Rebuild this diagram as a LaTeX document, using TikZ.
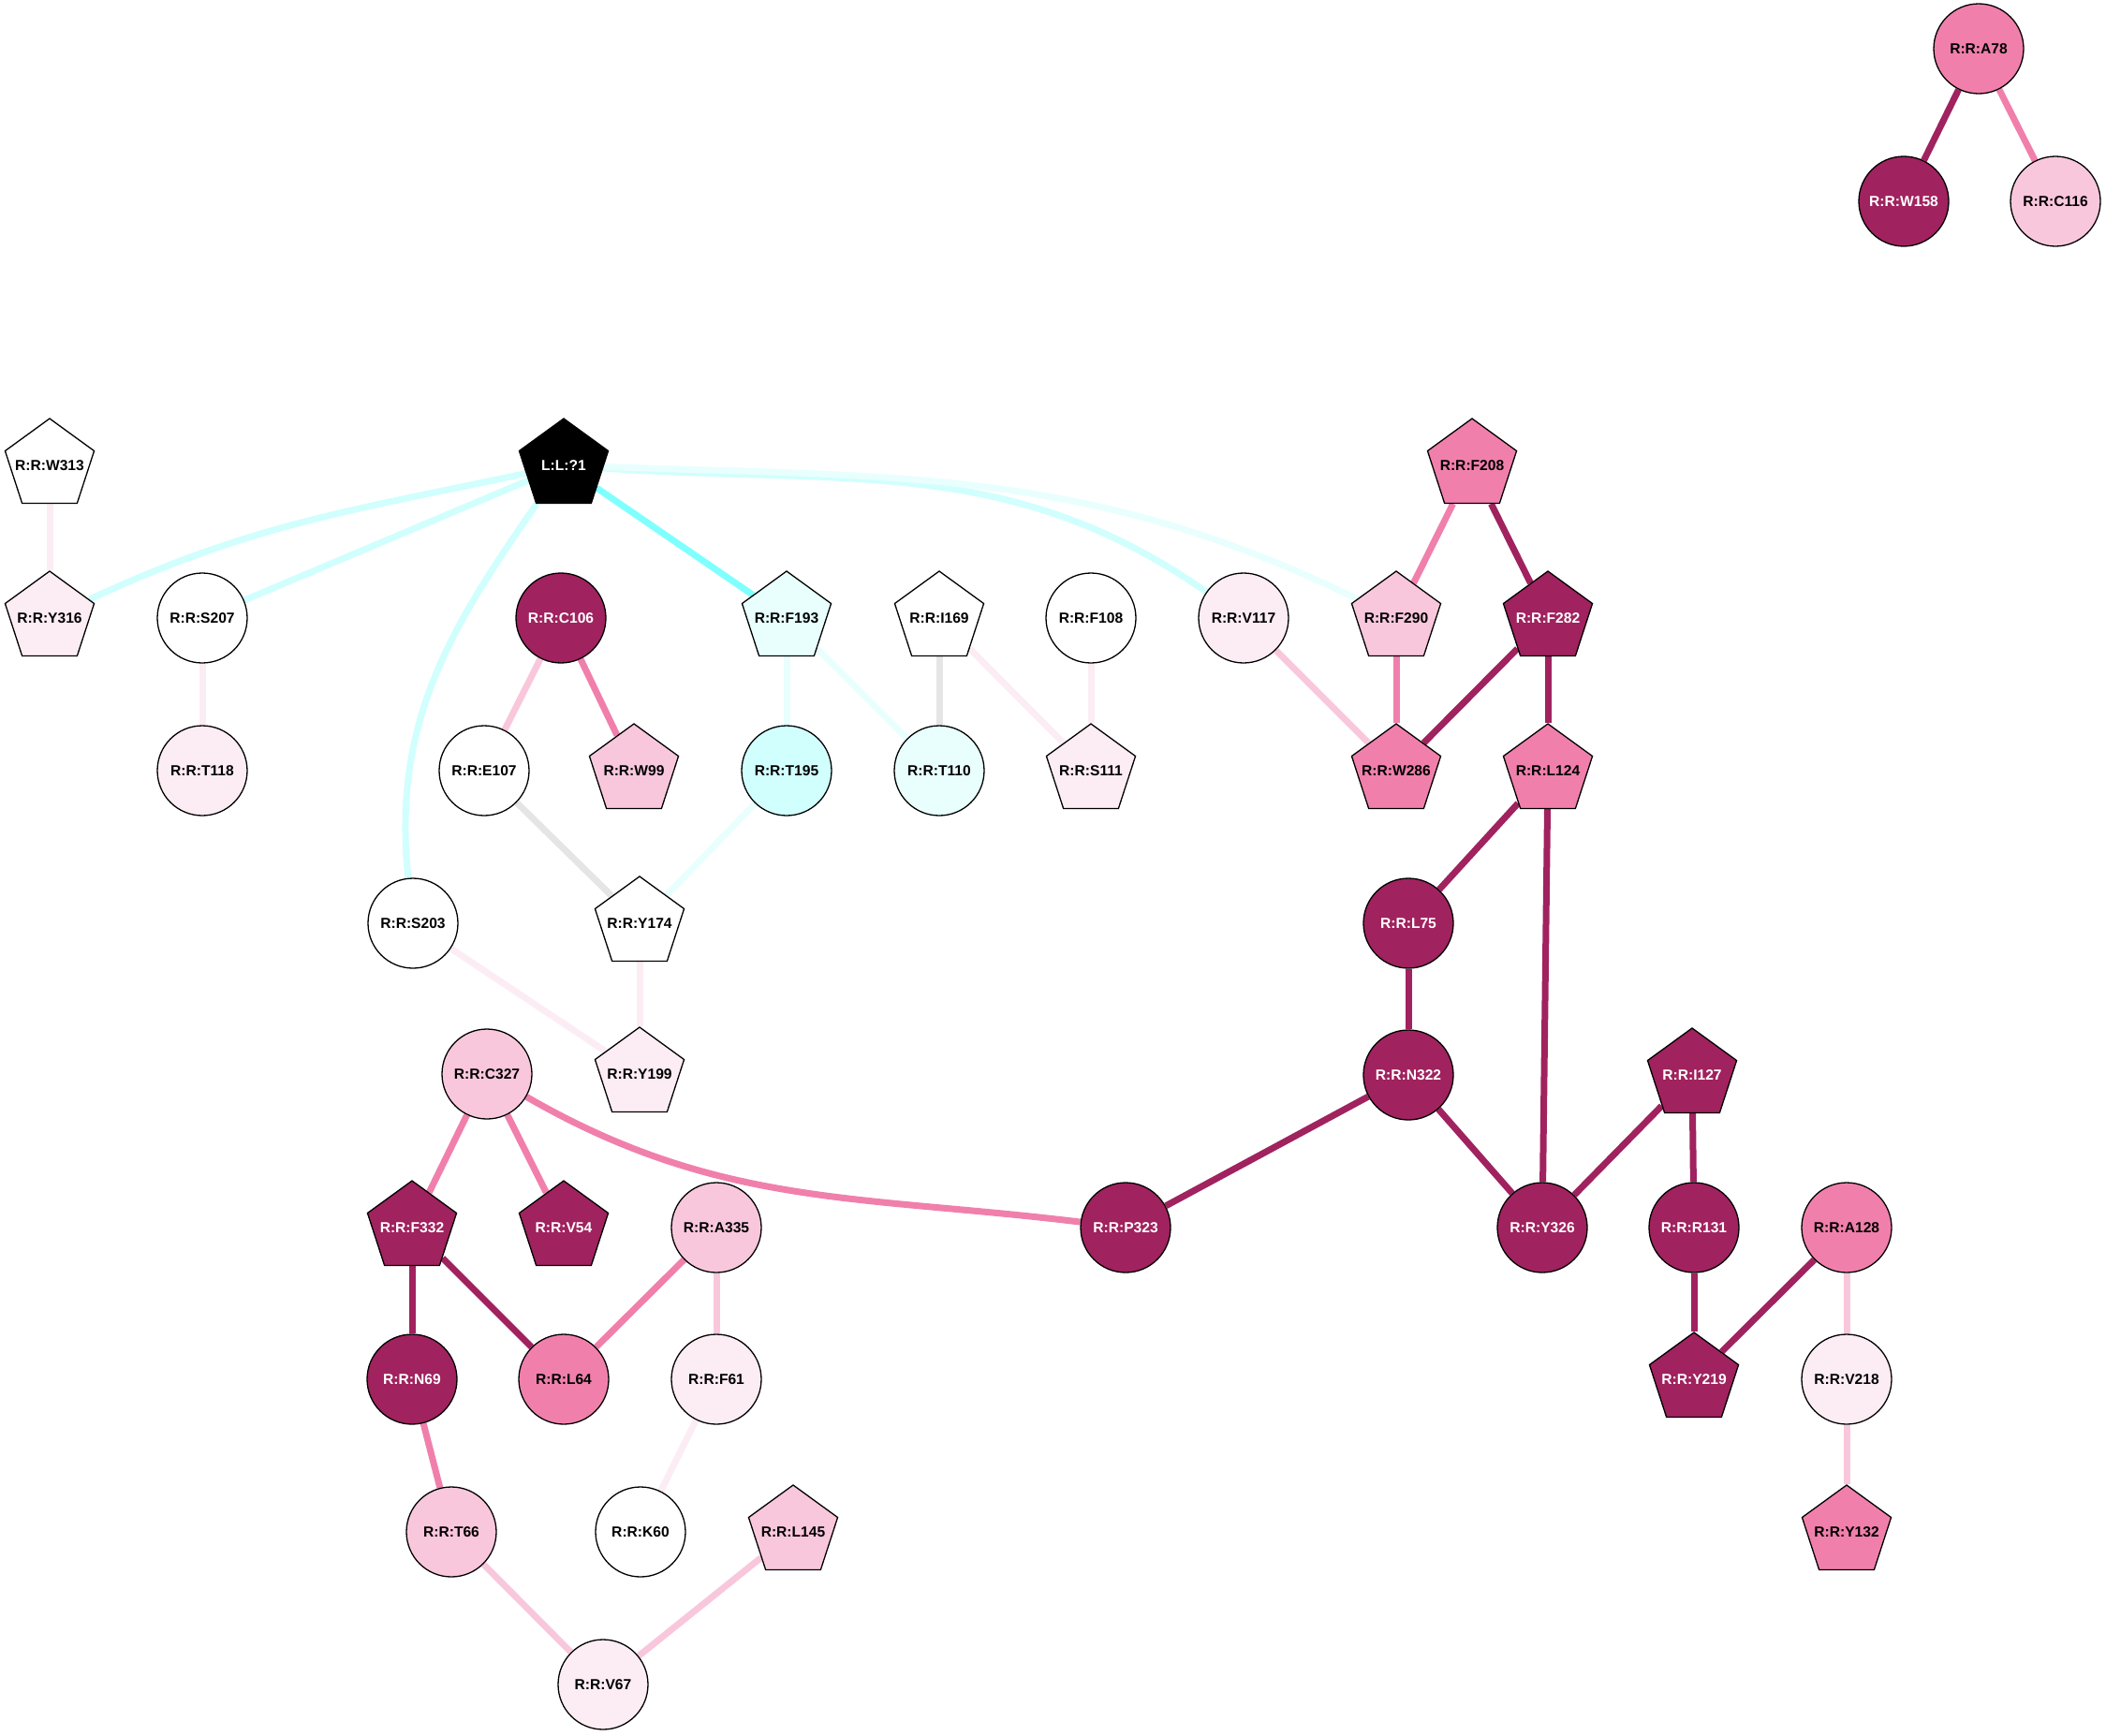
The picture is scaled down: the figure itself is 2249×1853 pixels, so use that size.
\documentclass[tikz,border=0pt]{standalone}
\usepackage{fontspec}
\setmainfont{Liberation Sans}
\usetikzlibrary{shapes.geometric,backgrounds}
\definecolor{dk}{RGB}{160,34,94}
\definecolor{md}{RGB}{240,128,171}
\definecolor{lt}{RGB}{249,199,220}
\definecolor{vl}{RGB}{252,236,243}
\definecolor{cst}{RGB}{128,255,255}
\definecolor{clt}{RGB}{208,255,253}
\definecolor{cvl}{RGB}{232,255,254}
\definecolor{gr}{RGB}{229,229,229}
\newcommand{\lbl}[1]{\makebox[0pt][c]{#1}}
\begin{document}
\begin{tikzpicture}[x=1pt,y=-1pt,
  nd/.style={draw=black,line width=1.3pt,font=\fontsize{15.6}{18}\selectfont\bfseries,inner sep=0pt,text=black},
  cir/.style={nd,circle,minimum size=96pt},
  pen/.style={nd,regular polygon,regular polygon sides=5,minimum size=100pt},
  wt/.style={text=white},
  ed/.style={line width=7pt}]
\useasboundingbox (0,0) rectangle (2249,1853);
% nodes
\node[cir,fill=md] (A78) at (2113,52) {\lbl{R:R:A78}};
\node[cir,fill=dk,wt] (W158) at (2033,215) {\lbl{R:R:W158}};
\node[cir,fill=lt] (C116) at (2195,215) {\lbl{R:R:C116}};
\node[pen,fill=white] (W313) at (53,497) {\lbl{R:R:W313}};
\node[pen,fill=black,wt] (L1) at (602,497) {\lbl{L:L:?1}};
\node[pen,fill=md] (F208) at (1572,497) {\lbl{R:R:F208}};
\node[pen,fill=vl] (Y316) at (53,660) {\lbl{R:R:Y316}};
\node[cir,fill=white] (S207) at (216,660) {\lbl{R:R:S207}};
\node[cir,fill=dk,wt] (C106) at (599,660) {\lbl{R:R:C106}};
\node[pen,fill=cvl] (F193) at (840,660) {\lbl{R:R:F193}};
\node[pen,fill=white] (I169) at (1003,660) {\lbl{R:R:I169}};
\node[cir,fill=white] (F108) at (1165,660) {\lbl{R:R:F108}};
\node[cir,fill=vl] (V117) at (1328,660) {\lbl{R:R:V117}};
\node[pen,fill=lt] (F290) at (1491,660) {\lbl{R:R:F290}};
\node[pen,fill=dk,wt] (F282) at (1653,660) {\lbl{R:R:F282}};
\node[cir,fill=vl] (T118) at (216,823) {\lbl{R:R:T118}};
\node[cir,fill=white] (E107) at (517,823) {\lbl{R:R:E107}};
\node[pen,fill=lt] (W99) at (677,823) {\lbl{R:R:W99}};
\node[cir,fill=clt] (T195) at (840,823) {\lbl{R:R:T195}};
\node[cir,fill=cvl] (T110) at (1003,823) {\lbl{R:R:T110}};
\node[pen,fill=vl] (S111) at (1165,823) {\lbl{R:R:S111}};
\node[pen,fill=md] (W286) at (1491,823) {\lbl{R:R:W286}};
\node[pen,fill=md] (L124) at (1653,823) {\lbl{R:R:L124}};
\node[cir,fill=white] (S203) at (441,986) {\lbl{R:R:S203}};
\node[pen,fill=white] (Y174) at (683,986) {\lbl{R:R:Y174}};
\node[cir,fill=dk,wt] (L75) at (1504,986) {\lbl{R:R:L75}};
\node[cir,fill=lt] (C327) at (520,1147) {\lbl{R:R:C327}};
\node[pen,fill=vl] (Y199) at (683,1147) {\lbl{R:R:Y199}};
\node[cir,fill=dk,wt] (N322) at (1504,1148) {\lbl{R:R:N322}};
\node[pen,fill=dk,wt] (I127) at (1807,1148) {\lbl{R:R:I127}};
\node[pen,fill=dk,wt] (F332) at (440,1311) {\lbl{R:R:F332}};
\node[pen,fill=dk,wt] (V54) at (602,1311) {\lbl{R:R:V54}};
\node[cir,fill=lt] (A335) at (765,1311) {\lbl{R:R:A335}};
\node[cir,fill=dk,wt] (P323) at (1202,1311) {\lbl{R:R:P323}};
\node[cir,fill=dk,wt] (Y326) at (1647,1311) {\lbl{R:R:Y326}};
\node[cir,fill=dk,wt] (R131) at (1809,1311) {\lbl{R:R:R131}};
\node[cir,fill=md] (A128) at (1972,1311) {\lbl{R:R:A128}};
\node[cir,fill=dk,wt] (N69) at (440,1473) {\lbl{R:R:N69}};
\node[cir,fill=md] (L64) at (602,1473) {\lbl{R:R:L64}};
\node[cir,fill=vl] (F61) at (765,1473) {\lbl{R:R:F61}};
\node[pen,fill=dk,wt] (Y219) at (1809,1473) {\lbl{R:R:Y219}};
\node[cir,fill=vl] (V218) at (1972,1473) {\lbl{R:R:V218}};
\node[cir,fill=lt] (T66) at (482,1636) {\lbl{R:R:T66}};
\node[cir,fill=white] (K60) at (684,1636) {\lbl{R:R:K60}};
\node[pen,fill=lt] (L145) at (847,1636) {\lbl{R:R:L145}};
\node[pen,fill=md] (Y132) at (1972,1636) {\lbl{R:R:Y132}};
\node[cir,fill=vl] (V67) at (644,1799) {\lbl{R:R:V67}};
% edges
\begin{pgfonlayer}{background}
\draw[ed,dk] (A78) -- (W158);
\draw[ed,md] (A78) -- (C116);
\draw[ed,vl] (W313) -- (Y316);
\draw[ed,clt] (L1) to[out=192,in=25] (Y316);
\draw[ed,clt] (L1) -- (S207);
\draw[ed,clt] (L1) to[out=235,in=96] (S203);
\draw[ed,cst] (L1) -- (F193);
\draw[ed,clt] (L1) to[out=-4,in=145] (V117);
\draw[ed,cvl] (L1) to[out=-2,in=154] (F290);
\draw[ed,vl] (S207) -- (T118);
\draw[ed,lt] (C106) -- (E107);
\draw[ed,md] (C106) -- (W99);
\draw[ed,cvl] (F193) -- (T195);
\draw[ed,cvl] (F193) -- (T110);
\draw[ed,gr] (I169) -- (T110);
\draw[ed,vl] (I169) -- (S111);
\draw[ed,vl] (F108) -- (S111);
\draw[ed,lt] (V117) -- (W286);
\draw[ed,md] (F208) -- (F290);
\draw[ed,dk] (F208) -- (F282);
\draw[ed,md] (F290) -- (W286);
\draw[ed,dk] (F282) -- (W286);
\draw[ed,dk] (F282) -- (L124);
\draw[ed,gr] (E107) -- (Y174);
\draw[ed,cvl] (T195) -- (Y174);
\draw[ed,dk] (L124) -- (L75);
\draw[ed,dk] (L124) -- (Y326);
\draw[ed,vl] (S203) -- (Y199);
\draw[ed,vl] (Y174) -- (Y199);
\draw[ed,dk] (L75) -- (N322);
\draw[ed,md] (C327) -- (F332);
\draw[ed,md] (C327) -- (V54);
\draw[ed,md] (C327) to[out=-30,in=173] (P323);
\draw[ed,dk] (N322) -- (P323);
\draw[ed,dk] (N322) -- (Y326);
\draw[ed,dk] (I127) -- (Y326);
\draw[ed,dk] (I127) -- (R131);
\draw[ed,dk] (F332) -- (N69);
\draw[ed,dk] (F332) -- (L64);
\draw[ed,md] (A335) -- (L64);
\draw[ed,lt] (A335) -- (F61);
\draw[ed,dk] (R131) -- (Y219);
\draw[ed,dk] (A128) -- (Y219);
\draw[ed,lt] (A128) -- (V218);
\draw[ed,md] (N69) -- (T66);
\draw[ed,vl] (F61) -- (K60);
\draw[ed,lt] (V218) -- (Y132);
\draw[ed,lt] (T66) -- (V67);
\draw[ed,lt] (L145) -- (V67);
\end{pgfonlayer}
\end{tikzpicture}
\end{document}
